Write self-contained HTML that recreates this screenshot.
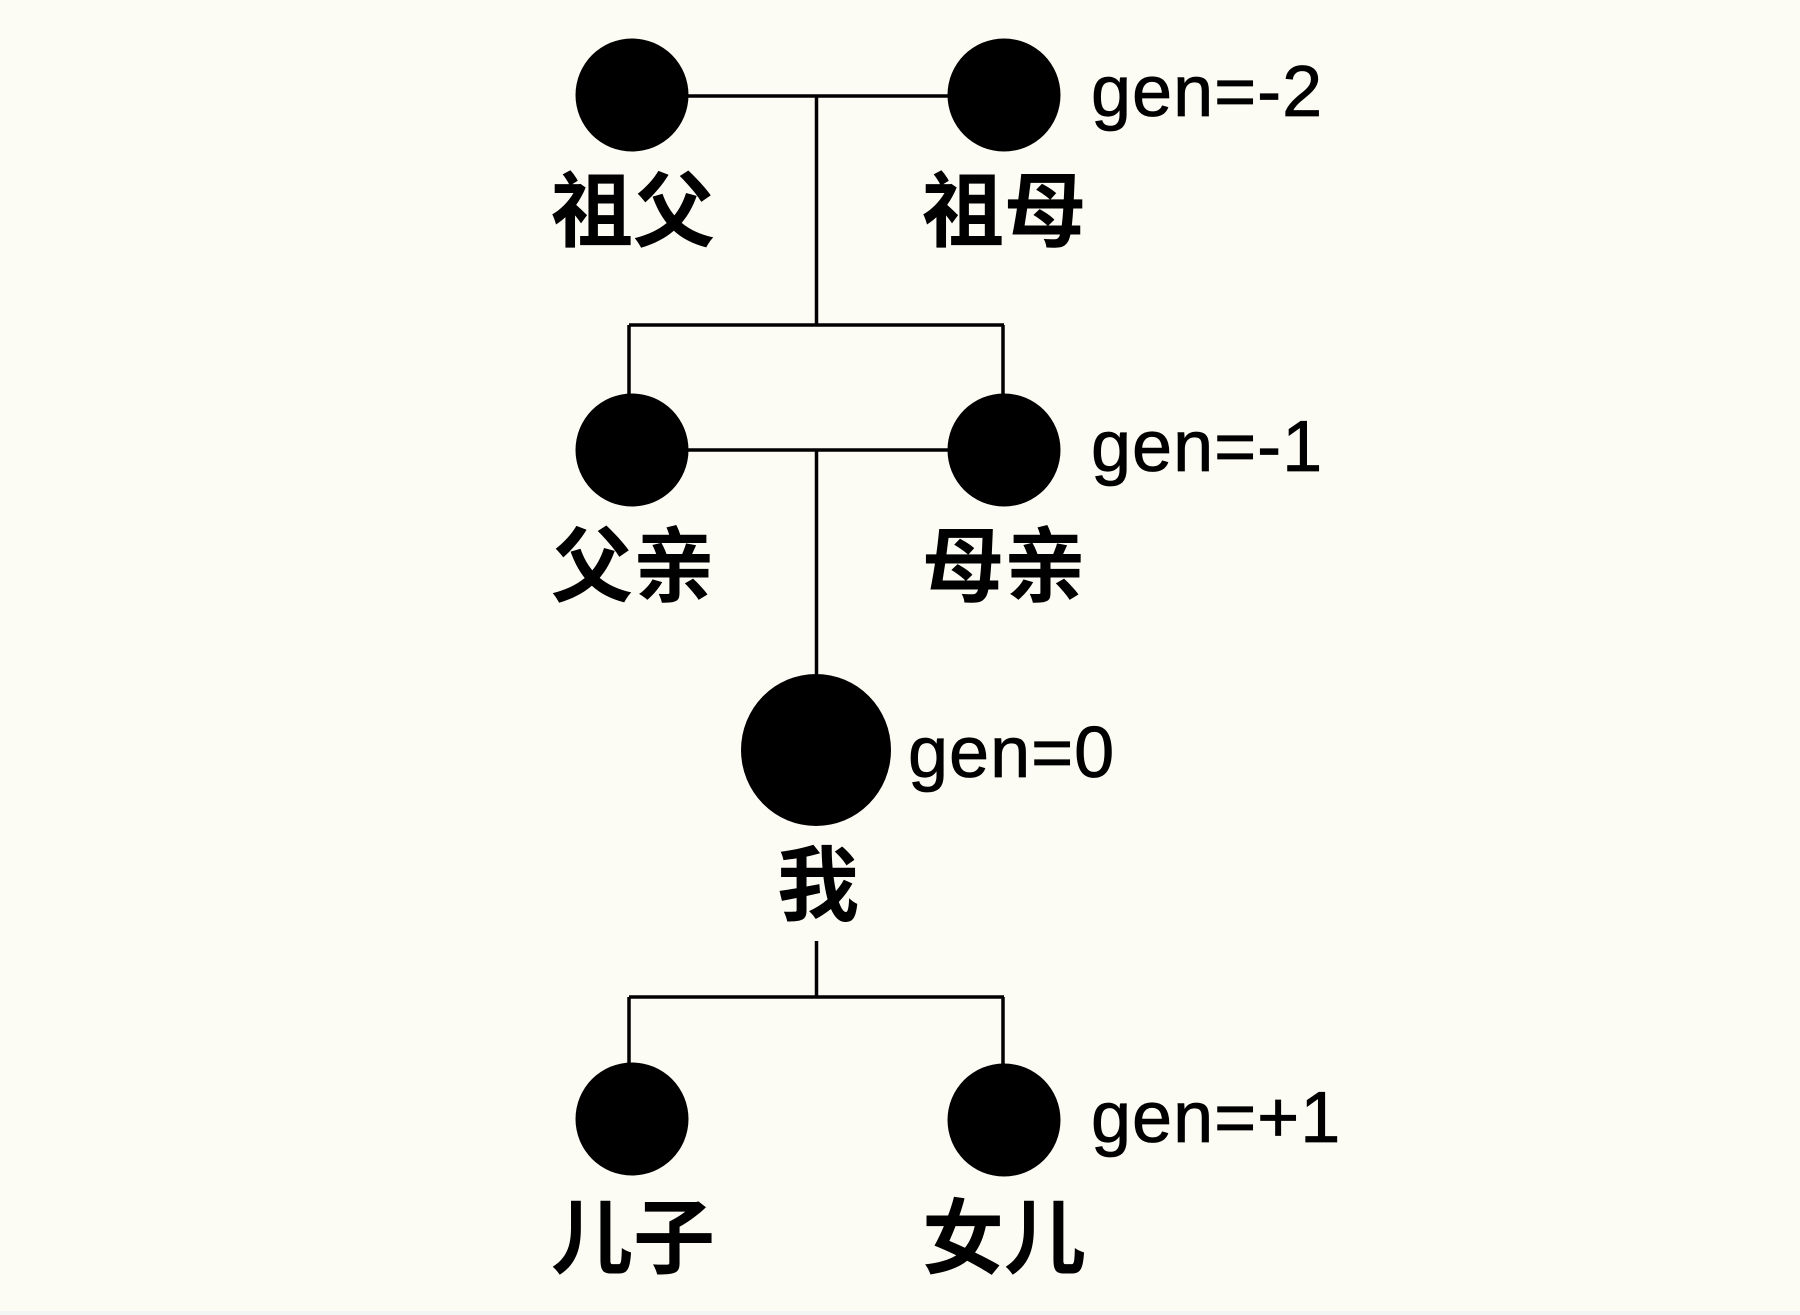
<!DOCTYPE html>
<html>
<head>
<meta charset="utf-8">
<style>
  html, body { margin: 0; padding: 0; background: #fdfcf4; }
  body { width: 1800px; height: 1315px; overflow: hidden; }
  svg { display: block; }
  .cjk { font-family: "Liberation Sans", "Noto Sans CJK SC", "WenQuanYi Zen Hei", sans-serif; font-size: 82px; font-weight: 700; fill: #000; }
  .gen { font-family: "Liberation Sans", Arial, sans-serif; font-size: 72px; fill: #000; stroke: #000; stroke-width: 0.8px; letter-spacing: 1px; }
</style>
</head>
<body>
<svg width="1800" height="1315" viewBox="0 0 1800 1315" xmlns="http://www.w3.org/2000/svg">
  <rect x="0" y="0" width="1800" height="1315" fill="#fdfcf4"/>
  <rect x="0" y="1311" width="1800" height="4" fill="#f3f5f5"/>

  <g stroke="#000" stroke-width="3.5" fill="none" stroke-linecap="butt">
    <line x1="686" y1="96" x2="949" y2="96"/>
    <line x1="816.5" y1="96" x2="816.5" y2="325"/>
    <line x1="629" y1="325" x2="1004" y2="325"/>
    <line x1="629" y1="325" x2="629" y2="396"/>
    <line x1="1003" y1="325" x2="1003" y2="396"/>
    <line x1="686" y1="450" x2="949" y2="450"/>
    <line x1="816.5" y1="450" x2="816.5" y2="676"/>
    <line x1="816.5" y1="941" x2="816.5" y2="997"/>
    <line x1="629" y1="997" x2="1004" y2="997"/>
    <line x1="629" y1="997" x2="629" y2="1066"/>
    <line x1="1003" y1="997" x2="1003" y2="1066"/>
  </g>

  <g fill="#000">
    <circle cx="632" cy="95" r="56.5"/>
    <circle cx="1004" cy="95" r="56.5"/>
    <circle cx="632" cy="450" r="56.5"/>
    <circle cx="1004" cy="450" r="56.5"/>
    <ellipse cx="816" cy="750" rx="75" ry="76"/>
    <circle cx="632" cy="1119" r="56.5"/>
    <circle cx="1004" cy="1120" r="56.5"/>
  </g>

  <text class="cjk" x="633" y="240" text-anchor="middle">祖父</text>
  <text class="cjk" x="1004" y="240" text-anchor="middle">祖母</text>
  <text class="cjk" x="633" y="595" text-anchor="middle">父亲</text>
  <text class="cjk" x="1004" y="595" text-anchor="middle">母亲</text>
  <text class="cjk" x="818" y="914" text-anchor="middle">我</text>
  <text class="cjk" x="633" y="1267" text-anchor="middle">儿子</text>
  <text class="cjk" x="1004" y="1267" text-anchor="middle">女儿</text>

  <text class="gen" x="1091" y="116">gen=-2</text>
  <text class="gen" x="1091" y="471">gen=-1</text>
  <text class="gen" x="908" y="777">gen=0</text>
  <text class="gen" x="1091" y="1142">gen=+1</text>
</svg>
</body>
</html>
